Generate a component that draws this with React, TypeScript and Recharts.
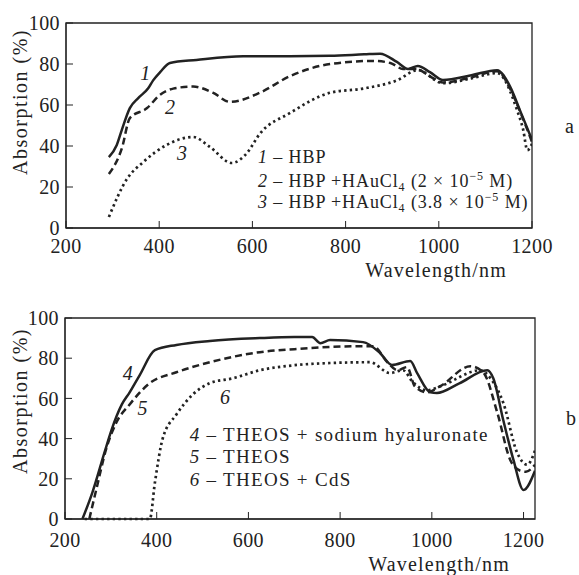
import React from "react";
import {
  LineChart,
  Line,
  XAxis,
  YAxis,
  ReferenceArea,
  ReferenceDot,
} from "recharts";

// panel a: HBP series
const hbpWl = [292, 309, 320, 337, 355, 376, 387, 402, 423, 480, 580, 680, 767, 840, 874, 910, 934, 955, 981, 1009, 1070, 1125, 1153, 1174, 1200];
const hbpAbs = [34.6, 40.5, 48, 58.5, 63.4, 68, 72, 76, 80.5, 82, 83.8, 83.8, 84, 84.7, 85, 81, 77.6, 79, 76, 72.2, 74.5, 77, 69, 57.5, 43];

const hbpAu2Wl = [292, 320, 337, 374, 402, 430, 473, 515, 552, 616, 680, 767, 859, 896, 923, 953, 981, 1009, 1070, 1125, 1153, 1174, 1200];
const hbpAu2Abs = [26.3, 39, 53.6, 58.5, 65, 68, 69, 66, 61.5, 66, 74, 80, 81.5, 80.5, 77.6, 77.5, 74, 71, 73.5, 76.5, 68, 57, 42];

const hbpAu38Wl = [292, 331, 365, 416, 473, 509, 556, 588, 616, 680, 767, 837, 910, 955, 1009, 1070, 1125, 1168, 1181, 1190, 1200];
const hbpAu38Abs = [5.4, 24, 32, 40.5, 44.4, 39.5, 31.7, 36.5, 46, 56, 66, 68, 72, 77, 70.6, 73, 75.6, 57.5, 48, 38, 41];

// panel b: THEOS series
const theosNaWl = [238, 260, 286, 301, 324, 341, 363, 396, 443, 516, 625, 700, 739, 757, 778, 850, 887, 913, 953, 968, 997, 1011, 1060, 1121, 1134, 1156, 1178, 1200, 1225];
const theosNaAbs = [0, 13.4, 33, 44, 57, 63, 71.6, 84, 86.6, 88.6, 90, 90.5, 90.5, 87.5, 89, 88, 82.6, 76.6, 78.6, 72.6, 63, 62.7, 67.5, 74, 70, 49, 29.4, 14.4, 24];

const theosWl = [253, 269, 290, 312, 341, 385, 443, 516, 625, 700, 778, 872, 903, 925, 946, 963, 989, 1018, 1084, 1112, 1143, 1171, 1193, 1205, 1225];
const theosAbs = [0, 15.4, 35, 48, 57, 67.6, 73, 78, 83, 84.5, 85.6, 86, 78, 74, 75.6, 66, 63, 66, 76, 73, 52.7, 29.4, 24, 23.5, 27];

const theosCdsWl = [243, 385, 396, 413, 443, 479, 516, 566, 625, 700, 778, 865, 909, 937, 959, 989, 1018, 1106, 1128, 1156, 1186, 1208, 1225];
const theosCdsAbs = [0, 0, 18, 40, 52, 62, 67.6, 70, 74, 76.5, 77.6, 78, 72.6, 74, 68, 64, 66, 74, 70, 57.7, 33, 27, 34];

const topXTicks = [200, 400, 600, 800, 1000, 1200];
const bottomXTicks = [200, 400, 600, 800, 1000, 1200];
const yTicks = [0, 20, 40, 60, 80, 100];

const toPoints = (wl: number[], abs: number[]) =>
  wl.map((w, i) => ({ wl: w, abs: abs[i] }));

const FONT = "Liberation Serif";
const INK = "#222";

const tickStyle = { fill: INK, fontSize: 20, fontFamily: FONT, letterSpacing: 0.4 };

const xLabel = (bottomGap: number) => (props: any) => {
  const vb = props.viewBox;
  return (
    <text
      x={vb.x + vb.width - 25}
      y={vb.y + vb.height - bottomGap}
      textAnchor="end"
      fill={INK}
      fontSize={20}
      fontFamily={FONT}
      letterSpacing={1.2}
    >
      Wavelength/nm
    </text>
  );
};

const yLabel = (dy: number) => (props: any) => {
  const vb = props.viewBox;
  const cx = vb.x + 20;
  const cy = vb.y + dy;
  return (
    <text
      x={cx}
      y={cy}
      transform={`rotate(-90, ${cx}, ${cy})`}
      textAnchor="middle"
      dominantBaseline="central"
      fill={INK}
      fontSize={20}
      fontFamily={FONT}
      letterSpacing={1.5}
    >
      Absorption (%)
    </text>
  );
};

const curveNumber = (n: string) => (p: any) => (
  <text
    x={p.cx}
    y={p.cy}
    textAnchor="middle"
    dominantBaseline="central"
    fill={INK}
    fontSize={20}
    fontStyle="italic"
    fontFamily={FONT}
  >
    {n}
  </text>
);

const legendLine = (n: string, content: React.ReactNode, size = 18, spacing = 0.9) => (p: any) => (
  <text x={p.cx} y={p.cy} fill={INK} fontSize={size} fontFamily={FONT} letterSpacing={spacing}>
    <tspan fontStyle="italic">{n}</tspan>
    <tspan> – </tspan>
    {content}
  </text>
);

const au = (conc: string) => (
  <>
    <tspan>HBP +HAuCl</tspan>
    <tspan fontSize={12} dy={4}>4</tspan>
    <tspan dy={-4}>{` (${conc} × 10`}</tspan>
    <tspan fontSize={12} dy={-7}>−5</tspan>
    <tspan dy={7}> M)</tspan>
  </>
);

const solid = { stroke: INK, strokeWidth: 2.5 };
const dashed = { stroke: INK, strokeWidth: 2.5, strokeDasharray: "7 4" };
const dotted = { stroke: INK, strokeWidth: 2.7, strokeDasharray: "2.4 3.2" };

const TopChart = () => (
  <LineChart width={579} height={290} margin={{ top: 23, right: 47, left: 0, bottom: 0 }}>
    <XAxis
      type="number"
      dataKey="wl"
      domain={[200, 1200]}
      ticks={topXTicks}
      allowDataOverflow
      height={62}
      tickSize={-7}
      tickMargin={18}
      stroke={INK}
      tick={tickStyle}
      label={xLabel(13)}
    />
    <YAxis
      type="number"
      dataKey="abs"
      domain={[0, 100]}
      ticks={yTicks}
      width={66}
      tickSize={-7}
      tickMargin={13}
      stroke={INK}
      tick={tickStyle}
      label={yLabel(79)}
    />
    <ReferenceArea x1={200} x2={1200} y1={0} y2={100} fill="none" stroke={INK} strokeWidth={1.3} />
    <Line data={toPoints(hbpWl, hbpAbs)} dataKey="abs" type="monotone" dot={false} isAnimationActive={false} {...solid} />
    <Line data={toPoints(hbpAu2Wl, hbpAu2Abs)} dataKey="abs" type="monotone" dot={false} isAnimationActive={false} {...dashed} />
    <Line data={toPoints(hbpAu38Wl, hbpAu38Abs)} dataKey="abs" type="monotone" dot={false} isAnimationActive={false} {...dotted} />
    <ReferenceDot x={370} y={75.6} r={0} shape={curveNumber("1")} />
    <ReferenceDot x={423} y={59} r={0} shape={curveNumber("2")} />
    <ReferenceDot x={449} y={36.6} r={0} shape={curveNumber("3")} />
    <ReferenceDot x={612} y={31.7} r={0} shape={legendLine("1", <tspan>HBP</tspan>)} />
    <ReferenceDot x={612} y={20} r={0} shape={legendLine("2", au("2"))} />
    <ReferenceDot x={612} y={9.6} r={0} shape={legendLine("3", au("3.8"))} />
  </LineChart>
);

const BottomChart = () => (
  <LineChart width={579} height={285} margin={{ top: 28, right: 44, left: 0, bottom: 0 }}>
    <XAxis
      type="number"
      dataKey="wl"
      domain={[200, 1225]}
      ticks={bottomXTicks}
      allowDataOverflow
      height={56}
      tickSize={-7}
      tickMargin={21}
      stroke={INK}
      tick={tickStyle}
      label={xLabel(4)}
    />
    <YAxis
      type="number"
      dataKey="abs"
      domain={[0, 100]}
      ticks={yTicks}
      width={65}
      tickSize={-7}
      tickMargin={13}
      stroke={INK}
      tick={tickStyle}
      label={yLabel(83)}
    />
    <ReferenceArea x1={200} x2={1225} y1={0} y2={100} fill="none" stroke={INK} strokeWidth={1.3} />
    <Line data={toPoints(theosNaWl, theosNaAbs)} dataKey="abs" type="monotone" dot={false} isAnimationActive={false} {...solid} />
    <Line data={toPoints(theosWl, theosAbs)} dataKey="abs" type="monotone" dot={false} isAnimationActive={false} {...dashed} />
    <Line data={toPoints(theosCdsWl, theosCdsAbs)} dataKey="abs" type="monotone" dot={false} isAnimationActive={false} {...dotted} />
    <ReferenceDot x={337} y={72.6} r={0} shape={curveNumber("4")} />
    <ReferenceDot x={369} y={55} r={0} shape={curveNumber("5")} />
    <ReferenceDot x={549} y={60.7} r={0} shape={curveNumber("6")} />
    <ReferenceDot x={472} y={38.8} r={0} shape={legendLine("4", <tspan>THEOS + sodium hyaluronate</tspan>, 19, 1.3)} />
    <ReferenceDot x={472} y={27.9} r={0} shape={legendLine("5", <tspan>THEOS</tspan>, 19, 1.3)} />
    <ReferenceDot x={472} y={16.4} r={0} shape={legendLine("6", <tspan>THEOS + CdS</tspan>, 19, 1.3)} />
  </LineChart>
);

const panelTag: React.CSSProperties = {
  position: "absolute",
  fontFamily: FONT,
  fontSize: 20,
  color: INK,
  lineHeight: "20px",
};

export default function App() {
  return (
    <div style={{ position: "absolute", left: 0, top: 0, width: 579, height: 575, background: "#fff" }}>
      <TopChart />
      <BottomChart />
      <div style={{ ...panelTag, left: 565, top: 116 }}>a</div>
      <div style={{ ...panelTag, left: 566, top: 408 }}>b</div>
    </div>
  );
}
